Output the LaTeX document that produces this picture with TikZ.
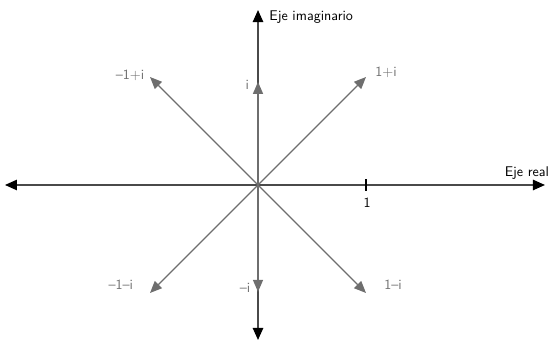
\documentclass[tikz,border=0pt]{standalone}
\usepackage{xcolor}
\usepackage{tikz}
\usetikzlibrary{arrows.meta,positioning}
\definecolor{vecc}{HTML}{6E6E6E}
\definecolor{axc}{HTML}{4A4A4A}
\tikzset{
  ax/.style={{Triangle[length=3mm,width=2.6mm,color=black]}-{Triangle[length=3mm,width=2.6mm,color=black]},line width=1pt,axc},
  vec/.style={-{Triangle[length=3mm,width=2.5mm]},line width=0.9pt,vecc},
  lab/.style={font=\sffamily,text=vecc,inner sep=1pt},
  axlab/.style={font=\sffamily,inner sep=1pt}
}

\begin{document}
\begin{tikzpicture}[x=2.7cm,y=2.7cm]
\useasboundingbox (-2.389,-1.472) rectangle (2.787,1.713);
\coordinate (o) at (0,0);
% ejes
\coordinate (xw) at (-2.343,0);
\coordinate (xe) at (2.657,0);
\coordinate (yn) at (0,1.62);
\coordinate (ys) at (0,-1.435);
\draw[ax] (xw)--(xe);
\draw[ax] (ys)--(yn);
\node[axlab,anchor=west] (ejeim) at (0.09,1.555) {Eje imaginario};
\node[axlab] (ejere) at (2.49,0.115) {Eje real};
% marca en 1
\coordinate (t1) at (1,0.055);
\coordinate (t2) at (1,-0.055);
\draw[line width=1pt,black] (t1)--(t2);
\node[lab,text=black] (uno) at (1.01,-0.165) {1};
% vectores
\coordinate (pa) at (1,1);
\coordinate (pb) at (0,0.955);
\coordinate (pc) at (-1,1);
\coordinate (pd) at (-1,-1);
\coordinate (pe) at (0,-0.99);
\coordinate (pf) at (1,-1);
\draw[vec] (o)--(pa);
\draw[vec] (o)--(pb);
\draw[vec] (o)--(pc);
\draw[vec] (o)--(pd);
\draw[vec] (o)--(pe);
\draw[vec] (o)--(pf);
\node[lab] (la) at (1.185,1.04) {1+i};
\node[lab] (lb) at (-0.10,0.93) {i};
\node[lab] (lc) at (-1.185,1.02) {--1+i};
\node[lab] (ld) at (-1.27,-0.926) {--1--i};
\node[lab] (le) at (-0.12,-0.95) {--i};
\node[lab] (lf) at (1.25,-0.926) {1--i};
\end{tikzpicture}
\end{document}
